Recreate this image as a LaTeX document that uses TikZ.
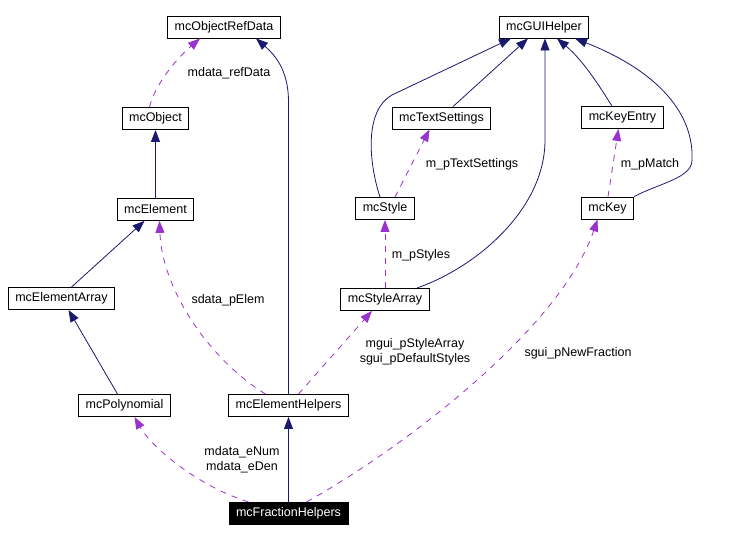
\documentclass[tikz,border=0pt]{standalone}
\usepackage{fontspec}
\setmainfont{Liberation Sans}
\usepackage{tikz}
\usetikzlibrary{arrows.meta, positioning}
\definecolor{inhblue}{RGB}{25,25,112}
\definecolor{usepurple}{RGB}{154,50,205}
\tikzset{
  cls/.style={
    rectangle, draw=black, line width=0.9pt,
    fill=white,
    minimum height=22pt, inner xsep=7pt, inner ysep=0pt,
    font=\fontsize{12.5}{15}\selectfont
  },
  clsmain/.style={cls, fill=black, text=white},
  inh/.style={-{Triangle[length=12pt,width=9pt]}, draw=inhblue, line width=0.8pt},
  usage/.style={-{Triangle[length=12pt,width=9pt]}, draw=usepurple,
    line width=0.8pt, dash pattern=on 6pt off 6pt},
  lbl/.style={font=\fontsize{12.5}{15}\selectfont, align=center, inner sep=0pt}
}

\begin{document}
\begin{tikzpicture}[x=1pt, y=-1pt, node distance=68pt]

  \useasboundingbox (0,0) rectangle (735,540);

  % ---- Nodes ----
  \node[cls] (refdata)   at (224,27)    {mcObjectRefData};
  \node[cls] (guihelper) at (544,27)    {mcGUIHelper};

  \node[cls] (mcobject)     at (155.5,118.5) {mcObject};
  \node[cls] (textsettings) at (441.5,118)   {mcTextSettings};
  \node[cls] (keyentry)     at (622.5,117.5) {mcKeyEntry};

  \node[cls, below=of mcobject] (mcelement) {mcElement};
  \node[cls] (mcstyle) at (385,208.5) {mcStyle};
  \node[cls] (mckey)   at (607.5,208) {mcKey};

  \node[cls] (elementarray)          at (61.5,298.5) {mcElementArray};
  \node[cls, below=of mcstyle] (stylearray) {mcStyleArray};

  \node[cls] (polynomial)     at (124.5,405.5) {mcPolynomial};
  \node[cls] (elementhelpers) at (288.5,405.5) {mcElementHelpers};

  \node[clsmain, below=85pt of elementhelpers] (fractionhelpers) {mcFractionHelpers};

  % ---- Inheritance ----
  \draw[inh] (mcelement) -- (mcobject);
  \draw[inh] ([xshift=10pt]elementarray.north) -- ([xshift=-11pt]mcelement.south);
  \draw[inh] ([xshift=-7pt]polynomial.north) -- ([xshift=7pt]elementarray.south);
  \draw[inh] (fractionhelpers) -- (elementhelpers);
  \draw[inh] (elementhelpers.north) -- (elementhelpers.north |- 0,100)
    .. controls (288,70) and (275,55) .. ([xshift=32pt]refdata.south);

  \draw[inh] ([xshift=-5pt]mcstyle.north) .. controls (368,160) and (365,110) .. (392,95)
    -- ([xshift=-33pt]guihelper.south);
  \draw[inh] ([xshift=11.5pt]textsettings.north) -- ([xshift=-16pt]guihelper.south);
  \draw[inh] ([xshift=32pt]stylearray.north) .. controls (475,268) and (545,210) .. (545,140)
    -- ([xshift=1pt]guihelper.south);
  \draw[inh] ([xshift=-10.5pt]keyentry.north) .. controls (603,92) and (585,62) .. ([xshift=13pt]guihelper.south);
  \draw[inh] (mckey.north east) .. controls (660,183) and (692,178) .. (692,160)
    .. controls (694,115) and (660,72) .. ([xshift=31pt]guihelper.south);

  % ---- Usage ----
  \draw[usage] ([xshift=-6pt]mcobject.north) .. controls (155,85) and (175,60) .. ([xshift=-24pt]refdata.south);
  \draw[usage] ([xshift=-23pt]elementhelpers.north) .. controls (210,360) and (162,290) .. ([xshift=4pt]mcelement.south);
  \draw[usage] ([xshift=10pt]elementhelpers.north) -- ([xshift=-13pt]stylearray.south);
  \draw[usage] ([xshift=-40pt]fractionhelpers.north) .. controls (195,485) and (150,445) .. ([xshift=10pt]polynomial.south);
  \draw[usage] ([xshift=18pt]fractionhelpers.north) .. controls (400,450) and (560,330) .. ([xshift=-10pt]mckey.south);
  \draw[usage] (stylearray) -- (mcstyle);
  \draw[usage] ([xshift=10pt]mcstyle.north) -- ([xshift=-12pt]textsettings.south);
  \draw[usage] ([xshift=0.5pt]mckey.north) -- ([xshift=-4pt]keyentry.south);

  % ---- Labels ----
  \node[lbl] (l_refdata)  at (229,73)  {mdata\_refData};
  \node[lbl] (l_elem)     at (228,300) {sdata\_pElem};
  \node[lbl] (l_num)      at (242,460) {mdata\_eNum\\mdata\_eDen};
  \node[lbl] (l_stylearr) at (415,352) {mgui\_pStyleArray\\sgui\_pDefaultStyles};
  \node[lbl] (l_newfrac)  at (578,353) {sgui\_pNewFraction};
  \node[lbl] (l_styles)   at (421,255) {m\_pStyles};
  \node[lbl] (l_textset)  at (472,164) {m\_pTextSettings};
  \node[lbl] (l_match)    at (650,164) {m\_pMatch};

\end{tikzpicture}
\end{document}
